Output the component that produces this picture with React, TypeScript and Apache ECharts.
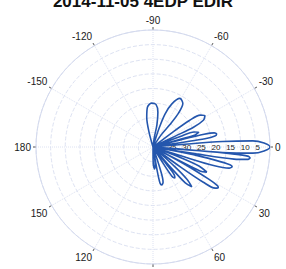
import React, { useEffect, useRef } from "react";
import * as echarts from "echarts";

// Radius in dB-like units (0 at the rim, 40 at the centre); angle in degrees, clockwise from the right.
const angleTicks = [0, 30, 60, 120, 150, 180, 210, 240, 270, 300, 330];
const radiusTicks = [5, 10, 15, 20, 25, 30, 35];

const petalA = [[40, 268], [34.9, 255], [29.7, 258], [26.3, 262], [25.0, 268], [25.4, 274], [28.0, 278], [32.3, 280], [36.6, 278], [40, 270]];
const petalB = [[40, 290], [33.2, 288], [28.0, 290], [24.0, 293.5], [21.0, 299], [22.0, 304.5], [25.5, 307], [30.5, 307], [35.0, 304], [40, 300]];
const petalC = [[40, 322], [31.5, 323], [24.6, 324], [20.5, 326], [19.3, 329], [20.5, 332], [24.6, 334], [31.5, 334], [40, 330]];
const petalE = [[40, 338], [30, 339], [25, 340], [23.6, 342], [25, 344], [30, 344], [40, 342]];
const petalD = [[40, 346], [30, 345.5], [22, 346], [18.5, 347], [17.8, 348.5], [18.5, 350], [22, 351], [30, 351], [40, 349]];
const mainLobe = [[40, 357], [30, 355], [16.1, 355.5], [5.8, 356.5], [2.0, 358], [0, 0], [2.0, 2], [5.8, 3.5], [16.1, 4.5], [30, 5], [40, 3]];
const petalF = [[40, 4], [25, 4.5], [12, 5], [7.5, 5.5], [6.6, 6.5], [7.5, 7.5], [12, 8.5], [25, 9], [40, 8]];
const petalG = [[40, 10], [28, 10.5], [18, 12], [13, 13], [12.1, 14], [13, 15.5], [18, 17], [28, 17.5], [40, 15]];
const petalI = [[40, 20], [30, 21], [23, 22.5], [19.7, 25], [22, 27], [30, 27.5], [40, 25]];
const petalH = [[40, 28], [28, 28.5], [18, 30], [14.2, 31], [13.7, 32], [14.5, 33.5], [19, 35], [28, 36], [40, 33]];
const petalJ = [[40, 42], [30, 42], [24, 43.5], [21, 45.7], [23.5, 48], [30, 49], [40, 46]];
const petalK = [[40, 52], [32, 52], [27.5, 53.5], [27, 55], [28, 57], [33, 58], [40, 56]];
const petalL = [[40, 73], [32, 72], [27.5, 74], [26.7, 77], [27.5, 79], [32, 80], [40, 79]];
const petalN = [[40, 84], [34, 83], [32.5, 86], [34, 89], [40, 88]];

const titleText = "2014-11-05 4EDP EDIR";

export default function App() {
  const ref = useRef<HTMLDivElement>(null);
  useEffect(() => {
    if (!ref.current) return;
    const chart = echarts.init(ref.current, undefined, { renderer: "svg" });
    const data = [
      ...petalA, ...petalB, ...petalC, ...petalE, ...petalD, ...mainLobe,
      ...petalF, ...petalG, ...petalI, ...petalH, ...petalJ, ...petalK, ...petalL, ...petalN,
    ];
    chart.setOption({
      animation: false,
      backgroundColor: "#ffffff",
      title: {
        text: titleText,
        left: "center",
        top: -12,
        textStyle: { fontSize: 17, fontWeight: "bold", color: "#111", fontFamily: "Liberation Sans" },
      },
      polar: { center: [153, 147], radius: 117 },
      angleAxis: {
        type: "value",
        min: 0,
        max: 360,
        interval: 30,
        startAngle: 0,
        clockwise: true,
        axisLine: { show: true, lineStyle: { color: "#d4daee", width: 1 } },
        axisTick: { show: true, length: 3, inside: false, lineStyle: { color: "#555", width: 1 } },
        axisLabel: {
          margin: 5,
          fontSize: 10,
          color: "#1a1a1a",
          fontFamily: "Liberation Sans",
          formatter: (v: number) => {
            if (!angleTicks.includes(v)) return "";
            return String(v > 180 ? v - 360 : v);
          },
        },
        splitLine: { show: true, lineStyle: { color: "#dde2f2", type: "dotted", width: 1 } },
      },
      radiusAxis: {
        type: "value",
        min: 0,
        max: 40,
        interval: 5,
        inverse: true,
        axisLine: { show: false },
        axisTick: { show: false },
        axisLabel: {
          margin: -4,
          fontSize: 8,
          color: "#222",
          fontFamily: "Liberation Sans",
          align: "left",
          formatter: (v: number) => (radiusTicks.includes(v) ? String(v) : ""),
        },
        splitLine: { show: true, lineStyle: { color: "#dde2f2", type: "dashed", width: 1 } },
      },
      series: [
        {
          type: "line",
          coordinateSystem: "polar",
          data,
          showSymbol: false,
          smooth: 0.3,
          lineStyle: { color: "#2456ad", width: 1.6 },
        },
      ],
    });
    return () => chart.dispose();
  }, []);
  return <div ref={ref} style={{ position: "fixed", left: 0, top: 0, width: 286, height: 269 }} />;
}
